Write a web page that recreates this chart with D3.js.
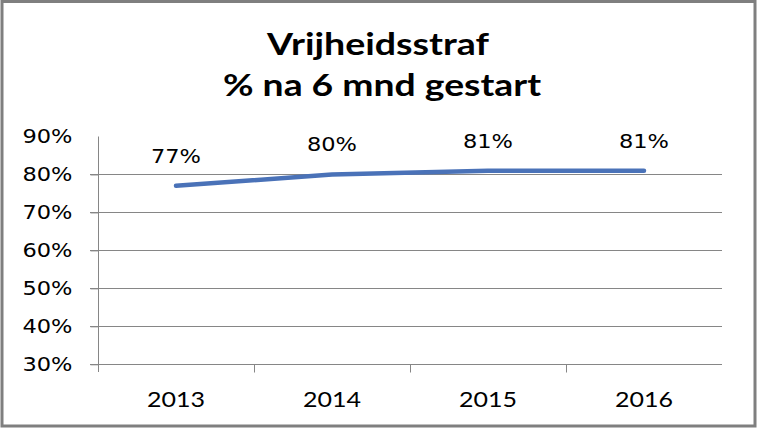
<!DOCTYPE html>
<html>
<head>
<meta charset="utf-8">
<script src="https://cdn.jsdelivr.net/npm/d3@7"></script>
<style>
body { margin: 0; background: #fff; }
</style>
</head>
<body>
<div id="chart"></div>
<script>
var years = ["2013", "2014", "2015", "2016"];
var values = [0.77, 0.80, 0.81, 0.81];
var yTicks = [0.3, 0.4, 0.5, 0.6, 0.7, 0.8, 0.9];
var titleLines = ["Vrijheidsstraf", "% na 6 mnd gestart"];

function init(){
	var w = 757;
	var h = 428;

	var svg = d3.select("#chart")
				.append("svg")
				.attr("width", w)
				.attr("height", h);

	// outer frame
	svg.append("rect")
		.attr("x", 2).attr("y", 1.5)
		.attr("width", 753).attr("height", 424.5)
		.attr("fill", "#fff")
		.attr("stroke", "#7f7f7f")
		.attr("stroke-width", 3);

	var xScale = d3.scaleBand()
					.domain(years)
					.range([98, 722]);

	var yScale = d3.scaleLinear()
					.domain([0.3, 0.9])
					.range([364.3, 136.5]);

	// gridlines (no line at the top value)
	svg.append("g")
		.selectAll("line")
		.data(yTicks.slice(1, -1))
		.enter()
		.append("line")
		.attr("x1", 90).attr("x2", 722)
		.attr("y1", function(d){ return Math.round(yScale(d)) + 0.5; })
		.attr("y2", function(d){ return Math.round(yScale(d)) + 0.5; })
		.attr("stroke", "#868686");

	// y axis
	var yAxis = d3.axisLeft(yScale)
					.tickValues(yTicks)
					.tickSize(8)
					.tickPadding(18)
					.tickFormat(d3.format(".0%"));
	var gy = svg.append("g")
		.attr("transform", "translate(98.5,0)")
		.call(yAxis);
	gy.select(".domain").remove();
	gy.append("line")
		.attr("x1", 0).attr("x2", 0)
		.attr("y1", 136.5).attr("y2", 372)
		.attr("stroke", "#868686");
	gy.selectAll(".tick line").attr("stroke", "#868686")
		.filter(function(d){ return d === 0.9; }).remove();
	gy.selectAll(".tick text")
		.attr("fill", "#000")
		.attr("textLength", 50)
		.attr("lengthAdjust", "spacingAndGlyphs")
		.style("font-family", "DejaVu Sans")
		.style("font-size", "19px");

	// x axis
	var xAxis = d3.axisBottom(xScale)
					.tickSize(0)
					.tickPadding(27);
	var gx = svg.append("g")
		.attr("transform", "translate(0," + (Math.round(yScale(0.3)) + 0.5) + ")")
		.call(xAxis);
	gx.select(".domain").remove();
	gx.append("line")
		.attr("x1", 90).attr("x2", 722)
		.attr("stroke", "#868686");
	gx.selectAll(".bound")
		.data(years.slice(1))
		.enter()
		.append("line")
		.attr("x1", function(d){ return Math.round(xScale(d)) + 0.5; })
		.attr("x2", function(d){ return Math.round(xScale(d)) + 0.5; })
		.attr("y1", 0).attr("y2", 8)
		.attr("stroke", "#868686");
	gx.selectAll(".tick text")
		.attr("fill", "#000")
		.attr("textLength", 58)
		.attr("lengthAdjust", "spacingAndGlyphs")
		.style("font-family", "Lato")
		.style("font-size", "22px");

	// line
	var line = d3.line()
				.x(function(d, i){ return xScale(years[i]) + xScale.bandwidth() / 2; })
				.y(function(d){ return yScale(d); });

	svg.append("path")
		.datum(values)
		.attr("d", line)
		.attr("fill", "none")
		.attr("stroke", "#4a72b8")
		.attr("stroke-width", 4.5)
		.attr("stroke-linecap", "round")
		.attr("stroke-linejoin", "round");

	// data labels
	svg.append("g")
		.selectAll("text")
		.data(values)
		.enter()
		.append("text")
		.attr("x", function(d, i){ return xScale(years[i]) + xScale.bandwidth() / 2; })
		.attr("y", function(d){ return yScale(d) - 23; })
		.attr("text-anchor", "middle")
		.attr("textLength", 50)
		.attr("lengthAdjust", "spacingAndGlyphs")
		.style("font-family", "DejaVu Sans")
		.style("font-size", "20px")
		.text(d3.format(".0%"));

	// title
	svg.append("g")
		.selectAll("text")
		.data(titleLines)
		.enter()
		.append("text")
		.attr("x", function(d, i){ return i === 0 ? 378 : 382; })
		.attr("y", function(d, i){ return 55 + i * 41; })
		.attr("text-anchor", "middle")
		.attr("textLength", function(d, i){ return i === 0 ? 222 : 318; })
		.attr("lengthAdjust", "spacingAndGlyphs")
		.style("font-family", "Lato")
		.style("font-weight", "bold")
		.style("font-size", "30px")
		.text(function(d){ return d; });
}

window.onload = init;
</script>
</body>
</html>
